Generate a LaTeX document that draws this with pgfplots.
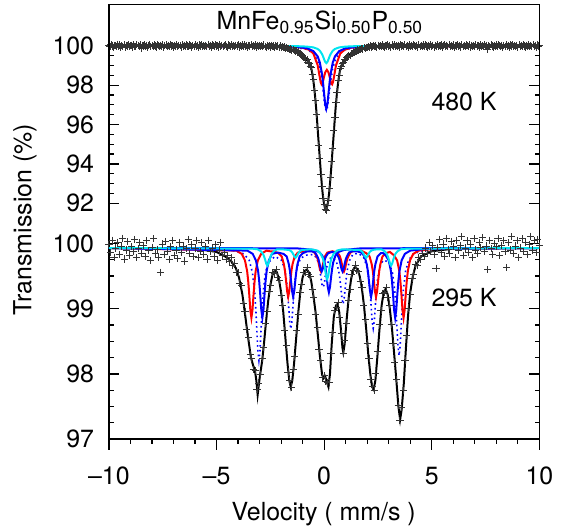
\documentclass[border=0pt]{standalone}
\usepackage{fontspec}
\setmainfont{TeX Gyre Heros}
\usepackage{pgfplots}
\pgfplotsset{compat=1.18}
\definecolor{cyn}{RGB}{0,228,240}

\begin{document}
\begin{tikzpicture}[font=\fontsize{12.5}{15}\selectfont]
\pgfplotsset{
  base/.style={width=216pt, height=218pt, scale only axis, at={(0,0)}, anchor=south west,
    xmin=-10, xmax=10, axis line style={line width=0.7pt},
    tick style={line width=0.6pt, black}, major tick length=5.3pt, minor tick length=2.4pt,
    tick label style={font=\fontsize{12.5}{15}\selectfont}},
  fit/.style={no marks, line width=1pt},
  pts/.style={only marks, mark=+, mark size=1.8pt, black!80, mark options={line width=0.42pt}},
}

% frame and velocity axis (ticks outside)
\begin{axis}[base, ymin=0, ymax=1, ytick=\empty,
  xtick={-10,-5,0,5,10}, xticklabels={--10,--5,0,5,10},
  minor xtick={-9,-8,-7,-6,-4,-3,-2,-1,1,2,3,4,6,7,8,9},
  tick align=outside, xtick pos=left, xticklabel style={yshift=-5.2pt}, clip=false]
\node[rotate=90] at (rel axis cs:-0.195,0.505) {Transmission (\%)};
\node[anchor=base] at (rel axis cs:0.499,-0.187) {Velocity ( mm/s )};
\end{axis}

% 480 K
\begin{axis}[base, ymin=80.02, ymax=102.09, xtick=\empty,
  ytick={92,94,96,98,100}, yticklabels={92,94,96,98,100},
  minor ytick={92,92.5,...,100}, tick align=inside, yticklabel style={xshift=-3.9pt}]
\addplot[pts] table[row sep=\\] {x y\\
-10 100.03\\ -9.95 99.96\\ -9.9 100.06\\ -9.85 99.99\\ -9.8 99.93\\ -9.75 100.02\\ -9.7 100.0\\ -9.65 99.95\\ -9.6 100.08\\ -9.55 99.98\\
-9.5 100.04\\ -9.45 99.94\\ -9.4 100.01\\ -9.35 99.97\\ -9.3 100.05\\ -9.25 99.92\\ -9.2 100.02\\ -9.15 99.99\\ -9.1 100.07\\ -9.05 99.96\\
-9.0 100.0\\ -8.95 100.03\\ -8.9 99.94\\ -8.85 100.05\\ -8.8 99.98\\ -8.75 99.95\\ -8.7 100.06\\ -8.65 100.01\\ -8.6 99.97\\ -8.55 100.04\\
-8.5 99.86\\ -8.45 100.02\\ -8.4 99.99\\ -8.35 100.05\\ -8.3 99.96\\ -8.25 100.03\\ -8.2 99.93\\ -8.15 100.0\\ -8.1 100.07\\ -8.05 99.97\\
-8.0 100.02\\ -7.95 99.95\\ -7.9 100.04\\ -7.85 99.99\\ -7.8 99.94\\ -7.75 100.06\\ -7.7 100.01\\ -7.65 99.96\\ -7.6 100.03\\ -7.55 99.98\\
-7.5 100.05\\ -7.45 99.93\\ -7.4 100.0\\ -7.35 100.04\\ -7.3 99.97\\ -7.25 100.02\\ -7.2 99.95\\ -7.15 100.08\\ -7.1 99.99\\ -7.05 100.01\\
-7.0 99.94\\ -6.95 100.03\\ -6.9 99.98\\ -6.85 100.06\\ -6.8 99.96\\ -6.75 100.02\\ -6.7 100.0\\ -6.65 99.93\\ -6.6 100.05\\ -6.55 99.98\\
-6.5 100.03\\ -6.45 99.96\\ -6.4 100.07\\ -6.35 99.99\\ -6.3 99.95\\ -6.25 100.04\\ -6.2 100.01\\ -6.15 99.94\\ -6.1 100.02\\ -6.05 99.97\\
-6.0 100.05\\ -5.95 99.98\\ -5.9 100.02\\ -5.85 99.93\\ -5.8 100.04\\ -5.75 99.99\\ -5.7 100.06\\ -5.65 99.96\\ -5.6 100.01\\ -5.55 99.95\\
-5.5 100.03\\ -5.45 99.97\\ -5.4 100.08\\ -5.35 99.98\\ -5.3 100.02\\ -5.25 99.94\\ -5.2 100.04\\ -5.15 100.0\\ -5.1 99.96\\ -5.05 100.05\\
-5.0 99.99\\ -4.95 100.02\\ -4.9 99.94\\ -4.85 100.06\\ -4.8 99.97\\ -4.75 100.03\\ -4.7 99.95\\ -4.65 100.01\\ -4.6 100.05\\ -4.55 99.98\\
-4.5 99.93\\ -4.45 100.04\\ -4.4 100.0\\ -4.35 99.96\\ -4.3 100.07\\ -4.25 99.98\\ -4.2 100.02\\ -4.15 99.95\\ -4.1 100.03\\ -4.05 99.99\\
-4.0 100.05\\ -3.95 99.94\\ -3.9 100.01\\ -3.85 99.97\\ -3.8 100.04\\ -3.75 99.96\\ -3.7 100.06\\ -3.65 99.98\\ -3.6 100.02\\ -3.55 99.93\\
-3.5 100.03\\ -3.45 99.99\\ -3.4 100.05\\ -3.35 99.95\\ -3.3 100.01\\ -3.25 99.97\\ -3.2 100.04\\ -3.15 99.94\\ -3.1 100.02\\ -3.05 99.98\\
-3.0 100.03\\ -2.95 99.95\\ -2.9 100.0\\ -2.85 99.96\\ -2.8 100.04\\ -2.75 99.97\\ -2.7 99.93\\ -2.65 100.02\\ -2.6 99.98\\ -2.55 100.01\\
-2.5 99.94\\ -2.45 100.03\\ -2.4 99.97\\ -2.35 99.99\\ -2.3 99.92\\ -2.25 100.02\\ -2.2 99.95\\ -2.15 99.99\\ -2.1 99.93\\ -2.05 100.0\\
-2.0 99.92\\ -1.95 99.96\\ -1.9 99.9\\ -1.85 99.94\\ -1.8 99.88\\ -1.75 99.91\\ -1.7 99.86\\ -1.65 99.87\\ -1.6 99.8\\ -1.55 99.84\\
-1.5 99.79\\ -1.45 99.83\\ -1.4 99.77\\ -1.35 99.74\\ -1.3 99.75\\ -1.25 99.68\\ -1.2 99.69\\ -1.15 99.61\\ -1.1 99.62\\ -1.05 99.53\\
-1.0 99.52\\ -0.95 99.43\\ -0.9 99.41\\ -0.85 99.31\\ -0.8 99.29\\ -0.75 99.18\\ -0.7 99.13\\ -0.65 98.97\\ -0.6 98.88\\ -0.55 98.57\\
-0.5 98.3\\ -0.45 97.72\\ -0.4 97.23\\ -0.35 96.5\\ -0.3 95.84\\ -0.25 94.95\\ -0.2 94.3\\ -0.15 93.45\\ -0.1 92.85\\ -0.05 92.25\\
0.0 91.96\\ 0.05 91.7\\ 0.1 91.62\\ 0.15 91.9\\ 0.2 92.15\\ 0.25 92.75\\ 0.3 93.3\\ 0.35 94.15\\ 0.4 94.8\\ 0.45 95.7\\
0.5 96.35\\ 0.55 97.15\\ 0.6 97.65\\ 0.65 98.25\\ 0.7 98.52\\ 0.75 98.86\\ 0.8 98.95\\ 0.85 99.12\\ 0.9 99.16\\ 0.95 99.29\\
1.0 99.3\\ 1.05 99.4\\ 1.1 99.42\\ 1.15 99.51\\ 1.2 99.52\\ 1.25 99.6\\ 1.3 99.6\\ 1.35 99.68\\ 1.4 99.67\\ 1.45 99.74\\
1.5 99.73\\ 1.55 99.79\\ 1.6 99.77\\ 1.65 99.83\\ 1.7 99.81\\ 1.75 99.87\\ 1.8 99.84\\ 1.85 99.9\\ 1.9 99.87\\ 1.95 99.93\\
2.0 99.9\\ 2.05 99.95\\ 2.1 99.92\\ 2.15 100.0\\ 2.2 99.94\\ 2.25 99.97\\ 2.3 100.02\\ 2.35 99.95\\ 2.4 99.99\\ 2.45 99.93\\
2.5 100.03\\ 2.55 99.97\\ 2.6 100.01\\ 2.65 99.95\\ 2.7 100.04\\ 2.75 99.98\\ 2.8 99.94\\ 2.85 100.02\\ 2.9 99.99\\ 2.95 100.05\\
3.0 99.96\\ 3.05 100.02\\ 3.1 99.93\\ 3.15 100.04\\ 3.2 99.98\\ 3.25 100.06\\ 3.3 99.95\\ 3.35 100.01\\ 3.4 99.97\\ 3.45 100.03\\
3.5 99.94\\ 3.55 100.05\\ 3.6 99.99\\ 3.65 100.02\\ 3.7 99.96\\ 3.75 100.07\\ 3.8 99.98\\ 3.85 100.0\\ 3.9 99.94\\ 3.95 100.04\\
4.0 99.97\\ 4.05 100.03\\ 4.1 99.95\\ 4.15 100.06\\ 4.2 100.0\\ 4.25 99.96\\ 4.3 100.02\\ 4.35 99.93\\ 4.4 100.05\\ 4.45 99.98\\
4.5 100.01\\ 4.55 99.95\\ 4.6 100.04\\ 4.65 99.97\\ 4.7 100.07\\ 4.75 99.99\\ 4.8 99.94\\ 4.85 100.02\\ 4.9 99.96\\ 4.95 100.05\\
5.0 99.98\\ 5.05 100.03\\ 5.1 99.93\\ 5.15 100.01\\ 5.2 99.97\\ 5.25 100.06\\ 5.3 99.95\\ 5.35 100.02\\ 5.4 99.99\\ 5.45 100.04\\
5.5 99.94\\ 5.55 100.0\\ 5.6 100.05\\ 5.65 99.96\\ 5.7 100.03\\ 5.75 99.98\\ 5.8 100.07\\ 5.85 99.95\\ 5.9 100.01\\ 5.95 99.97\\
6.0 100.04\\ 6.05 99.93\\ 6.1 100.02\\ 6.15 99.99\\ 6.2 100.06\\ 6.25 99.96\\ 6.3 100.0\\ 6.35 99.94\\ 6.4 100.05\\ 6.45 99.98\\
6.5 100.02\\ 6.55 99.95\\ 6.6 100.04\\ 6.65 100.0\\ 6.7 99.97\\ 6.75 100.06\\ 6.8 99.93\\ 6.85 100.03\\ 6.9 99.98\\ 6.95 100.01\\
7.0 99.96\\ 7.05 100.05\\ 7.1 99.99\\ 7.15 100.02\\ 7.2 99.94\\ 7.25 100.04\\ 7.3 99.97\\ 7.35 100.0\\ 7.4 99.95\\ 7.45 100.07\\
7.5 99.98\\ 7.55 100.03\\ 7.6 99.82\\ 7.65 100.01\\ 7.7 99.96\\ 7.75 100.05\\ 7.8 99.99\\ 7.85 99.94\\ 7.9 100.02\\ 7.95 99.97\\
8.0 100.04\\ 8.05 99.95\\ 8.1 100.06\\ 8.15 100.0\\ 8.2 99.96\\ 8.25 100.03\\ 8.3 99.93\\ 8.35 100.01\\ 8.4 99.98\\ 8.45 100.05\\
8.5 99.97\\ 8.55 100.02\\ 8.6 99.94\\ 8.65 100.04\\ 8.7 99.99\\ 8.75 100.06\\ 8.8 99.95\\ 8.85 100.01\\ 8.9 99.97\\ 8.95 100.03\\
9.0 99.93\\ 9.05 100.05\\ 9.1 99.98\\ 9.15 100.02\\ 9.2 99.96\\ 9.25 100.07\\ 9.3 99.99\\ 9.35 99.94\\ 9.4 100.03\\ 9.45 99.97\\
9.5 100.04\\ 9.55 99.95\\ 9.6 100.01\\ 9.65 99.98\\ 9.7 100.06\\ 9.75 99.96\\ 9.8 100.02\\ 9.85 99.93\\ 9.9 100.04\\ 9.95 99.99\\
10.0 100.03\\
};
% total fit
\addplot[fit, black] coordinates {(-10,100.0) (-2.92,99.97) (-1.92,99.92) (-1.42,99.8) (-1.12,99.62) (-0.92,99.42)
 (-0.82,99.3) (-0.72,99.16) (-0.67,99.06) (-0.62,98.93) (-0.57,98.72) (-0.52,98.38) (-0.47,97.95) (-0.42,97.42)
 (-0.37,96.8) (-0.32,96.07) (-0.27,95.3) (-0.22,94.55) (-0.17,93.8) (-0.12,93.11) (-0.07,92.5) (-0.02,92.08)
 (0.03,91.8) (0.08,91.7) (0.13,91.8) (0.18,92.08) (0.23,92.5) (0.28,93.11) (0.33,93.8) (0.38,94.55) (0.43,95.3)
 (0.48,96.07) (0.53,96.8) (0.58,97.42) (0.63,97.95) (0.68,98.38) (0.73,98.72) (0.78,98.93) (0.83,99.06)
 (0.88,99.16) (0.98,99.3) (1.08,99.42) (1.28,99.62) (1.58,99.8) (2.08,99.92) (3.08,99.97) (10,100.0)};
% subspectra
\addplot[no marks, blue, line width=0.8pt, dash pattern=on 0.8pt off 1.6pt] coordinates {(-10,100) (-1.4,99.93) (-0.8,99.82)
 (-0.5,99.61) (-0.3,99.23) (-0.2,98.85) (-0.1,98.19) (-0.05,97.75) (0,97.26) (0.05,96.86) (0.1,96.7) (0.15,96.86)
 (0.2,97.26) (0.25,97.75) (0.3,98.19) (0.4,98.85) (0.5,99.23) (0.7,99.61) (1.0,99.82) (1.6,99.93) (10,100)};
\addplot[fit, red] coordinates {(-10,100) (-1.5,99.955) (-1.0,99.9) (-0.7,99.8) (-0.5,99.61) (-0.3,99.01) (-0.2,98.38)
 (-0.16,98.15) (-0.12,98.04) (-0.08,98.09) (-0.05,98.21) (0.0,98.45) (0.05,98.65) (0.125,98.78) (0.2,98.65)
 (0.25,98.45) (0.3,98.21) (0.33,98.09) (0.37,98.04) (0.41,98.15) (0.45,98.38) (0.55,99.01) (0.75,99.61)
 (0.95,99.8) (1.25,99.9) (1.75,99.955) (10,100)};
\addplot[fit, blue] coordinates {(-10,100) (-1.4,99.96) (-0.8,99.88) (-0.5,99.73) (-0.3,99.46) (-0.2,99.15) (-0.1,98.57)
 (-0.05,98.11) (0,97.56) (0.05,97.03) (0.1,96.8) (0.15,97.03) (0.2,97.56) (0.25,98.11) (0.3,98.57) (0.4,99.15)
 (0.5,99.46) (0.7,99.73) (1.0,99.88) (1.6,99.96) (10,100)};
\addplot[fit, cyn] coordinates {(-10,100) (-1.4,99.99) (-0.8,99.96) (-0.5,99.92) (-0.3,99.84) (-0.2,99.75) (-0.1,99.58)
 (-0.05,99.46) (0,99.31) (0.05,99.18) (0.1,99.12) (0.15,99.18) (0.2,99.31) (0.25,99.46) (0.3,99.58) (0.4,99.75)
 (0.5,99.84) (0.7,99.92) (1.0,99.96) (1.6,99.99) (10,100)};
\node[anchor=base] at (axis cs:-0.2,100.81) {MnFe\textsubscript{0.95}Si\textsubscript{0.50}P\textsubscript{0.50}};
\node[anchor=base] at (axis cs:6.5,96.71) {480 K};
\end{axis}

% 295 K
\begin{axis}[base, ymin=97, ymax=103.66, xtick=\empty,
  ytick={97,98,99,100}, yticklabels={97,98,99,100},
  minor ytick={97,97.25,...,100}, tick align=inside, yticklabel style={xshift=-3.9pt}]
\addplot[pts] table[row sep=\\] {x y\\
-10 99.98\\ -9.92 99.86\\ -9.84 100.05\\ -9.76 99.79\\ -9.68 99.93\\ -9.60 100.02\\ -9.52 99.83\\ -9.44 99.96\\ -9.36 100.08\\ -9.28 99.76\\
-9.20 99.9\\ -9.12 100.03\\ -9.04 99.81\\ -8.96 99.95\\ -8.88 99.87\\ -8.80 100.06\\ -8.72 99.78\\ -8.64 99.92\\ -8.56 100.01\\ -8.48 99.84\\
-8.40 99.97\\ -8.32 99.8\\ -8.24 100.04\\ -8.16 99.89\\ -8.08 99.74\\ -8.00 99.94\\ -7.92 100.07\\ -7.84 99.85\\ -7.76 99.91\\ -7.68 99.78\\
-7.60 99.56\\ -7.52 99.99\\ -7.44 99.83\\ -7.36 100.03\\ -7.28 99.88\\ -7.20 99.75\\ -7.12 99.95\\ -7.04 100.05\\ -6.96 99.82\\ -6.88 99.9\\
-6.80 99.77\\ -6.72 100.02\\ -6.64 99.86\\ -6.56 99.96\\ -6.48 99.73\\ -6.40 99.92\\ -6.32 100.06\\ -6.24 99.84\\ -6.16 99.98\\ -6.08 99.8\\
-6.00 99.93\\ -5.92 100.04\\ -5.84 99.79\\ -5.76 99.88\\ -5.68 100.01\\ -5.60 99.83\\ -5.52 99.95\\ -5.44 99.76\\ -5.36 100.05\\ -5.28 99.87\\
-5.20 99.92\\ -5.12 99.8\\ -5.04 99.98\\ -4.96 99.74\\ -4.88 99.9\\ -4.80 100.02\\ -4.72 99.82\\ -4.64 99.86\\ -4.56 99.76\\ -4.48 99.82\\
-4.40 99.72\\ -4.32 99.78\\ -4.24 99.66\\ -4.16 99.7\\ -4.08 99.56\\ -4.00 99.55\\ -3.92 99.38\\ -3.84 99.35\\ -3.76 99.08\\ -3.68 98.96\\
-3.60 98.68\\ -3.52 98.56\\ -3.44 98.3\\ -3.36 98.23\\ -3.28 98.07\\ -3.20 98.05\\ -3.12 97.76\\ -3.04 97.86\\ -2.96 97.99\\ -2.88 98.24\\
-2.80 98.41\\ -2.72 98.77\\ -2.64 98.96\\ -2.56 99.26\\ -2.48 99.36\\ -2.40 99.55\\ -2.32 99.54\\ -2.24 99.6\\ -2.16 99.48\\ -2.08 99.44\\
-2.00 99.21\\ -1.92 99.05\\ -1.84 98.67\\ -1.76 98.43\\ -1.68 98.03\\ -1.60 97.9\\ -1.52 97.8\\ -1.44 98.07\\ -1.36 98.27\\ -1.28 98.67\\
-1.20 98.91\\ -1.12 99.25\\ -1.04 99.37\\ -0.96 99.55\\ -0.88 99.56\\ -0.80 99.63\\ -0.72 99.53\\ -0.64 99.5\\ -0.56 99.3\\ -0.48 99.18\\
-0.40 98.91\\ -0.32 98.72\\ -0.24 98.38\\ -0.16 98.2\\ -0.08 97.95\\ 0.00 97.97\\ 0.08 97.89\\ 0.16 97.87\\ 0.24 97.87\\ 0.32 98.31\\
0.40 98.63\\ 0.48 98.97\\ 0.56 99.02\\ 0.64 99.09\\ 0.72 98.86\\ 0.80 98.62\\ 0.88 98.32\\ 0.96 98.52\\ 1.04 98.78\\ 1.12 99.13\\
1.20 99.3\\ 1.28 99.53\\ 1.36 99.58\\ 1.44 99.67\\ 1.52 99.58\\ 1.60 99.57\\ 1.68 99.42\\ 1.76 99.33\\ 1.84 99.05\\ 1.92 98.83\\
2.00 98.46\\ 2.08 98.23\\ 2.16 97.92\\ 2.24 97.81\\ 2.32 97.74\\ 2.40 98.0\\ 2.48 98.35\\ 2.56 98.76\\ 2.64 98.97\\ 2.72 99.23\\
2.80 99.25\\ 2.88 99.32\\ 2.96 99.17\\ 3.04 99.05\\ 3.12 98.76\\ 3.20 98.47\\ 3.28 98.17\\ 3.36 97.91\\ 3.44 97.51\\ 3.52 97.28\\
3.60 97.48\\ 3.68 97.74\\ 3.76 98.21\\ 3.84 98.59\\ 3.92 99.01\\ 4.00 99.22\\ 4.08 99.46\\ 4.16 99.52\\ 4.24 99.68\\ 4.32 99.67\\
4.40 99.78\\ 4.48 99.76\\ 4.56 99.84\\ 4.64 99.8\\ 4.72 99.93\\ 4.80 99.85\\ 4.88 100.02\\ 4.96 99.88\\ 5.04 99.97\\ 5.12 99.83\\
5.20 99.62\\ 5.28 99.94\\ 5.36 100.06\\ 5.44 99.86\\ 5.52 99.99\\ 5.60 99.8\\ 5.68 100.08\\ 5.76 99.91\\ 5.84 99.84\\ 5.92 100.03\\
6.00 99.95\\ 6.08 99.78\\ 6.16 100.05\\ 6.24 99.89\\ 6.32 99.97\\ 6.40 100.1\\ 6.48 99.82\\ 6.56 99.93\\ 6.64 100.04\\ 6.72 99.86\\
6.80 99.98\\ 6.88 99.79\\ 6.96 100.07\\ 7.04 99.9\\ 7.12 99.84\\ 7.20 100.02\\ 7.28 99.94\\ 7.36 100.09\\ 7.44 99.87\\ 7.52 99.96\\
7.60 99.6\\ 7.68 100.05\\ 7.76 99.92\\ 7.84 99.83\\ 7.92 100.0\\ 8.00 99.95\\ 8.08 100.08\\ 8.16 99.81\\ 8.24 99.97\\ 8.32 100.04\\
8.40 99.88\\ 8.48 99.63\\ 8.56 100.02\\ 8.64 99.9\\ 8.72 100.1\\ 8.80 99.85\\ 8.88 99.96\\ 8.96 100.05\\ 9.04 99.79\\ 9.12 99.93\\
9.20 100.07\\ 9.28 99.88\\ 9.36 100.02\\ 9.44 99.83\\ 9.52 99.98\\ 9.60 100.11\\ 9.68 99.9\\ 9.76 100.04\\ 9.84 99.86\\ 9.92 100.06\\
10.00 99.97\\
};
% total fit
\addplot[fit, black] coordinates {(-10,99.93) (-6.0,99.92) (-5.0,99.87) (-4.6,99.8) (-4.3,99.72) (-4.1,99.62)
 (-3.95,99.47) (-3.8,99.22) (-3.7,98.98) (-3.6,98.72) (-3.5,98.48) (-3.4,98.25) (-3.3,98.13) (-3.22,98.06)
 (-3.15,97.9) (-3.09,97.68) (-3.03,97.85) (-2.97,98.0) (-2.88,98.2) (-2.8,98.45) (-2.7,98.8) (-2.6,99.12)
 (-2.5,99.36) (-2.4,99.52) (-2.3,99.58) (-2.2,99.56) (-2.1,99.45) (-2.0,99.25) (-1.9,98.95) (-1.8,98.55)
 (-1.7,98.15) (-1.62,97.9) (-1.55,97.8) (-1.48,97.9) (-1.4,98.15) (-1.3,98.55) (-1.2,98.95) (-1.1,99.28)
 (-1.0,99.48) (-0.9,99.58) (-0.8,99.6) (-0.7,99.55) (-0.6,99.42) (-0.5,99.2) (-0.4,98.95) (-0.3,98.62)
 (-0.2,98.28) (-0.1,98.0) (-0.03,97.93) (0.05,97.96) (0.12,97.88) (0.2,97.8) (0.27,98.0) (0.35,98.45)
 (0.45,98.88) (0.55,99.05) (0.62,99.07) (0.7,98.95) (0.78,98.68) (0.85,98.4) (0.89,98.33) (0.95,98.45)
 (1.05,98.85) (1.15,99.2) (1.25,99.45) (1.35,99.6) (1.45,99.64) (1.55,99.6) (1.65,99.5) (1.75,99.32)
 (1.85,99.05) (1.95,98.7) (2.05,98.3) (2.15,97.98) (2.23,97.8) (2.3,97.76) (2.38,97.9) (2.47,98.25)
 (2.57,98.68) (2.67,99.05) (2.77,99.26) (2.85,99.3) (2.95,99.22) (3.05,99.0) (3.15,98.7) (3.25,98.32)
 (3.35,97.92) (3.45,97.5) (3.53,97.3) (3.6,97.45) (3.7,97.85) (3.8,98.4) (3.9,98.9) (4.0,99.25) (4.12,99.5)
 (4.25,99.66) (4.5,99.8) (5.0,99.88) (6.0,99.92) (10,99.93)};
% subspectra
\addplot[no marks, blue, line width=0.8pt, dash pattern=on 0.8pt off 1.6pt] coordinates {(-10,99.93) (-4.5,99.92)
 (-3.73,99.84) (-3.48,99.74) (-3.33,99.55) (-3.23,99.26) (-3.18,99.02) (-3.13,98.69) (-3.08,98.36) (-3.03,98.21)
 (-2.98,98.36) (-2.93,98.69) (-2.88,99.02) (-2.83,99.26) (-2.73,99.55) (-2.58,99.71) (-2.29,99.8) (-2.0,99.75)
 (-1.85,99.63) (-1.75,99.44) (-1.7,99.26) (-1.65,99.04) (-1.6,98.8) (-1.55,98.69) (-1.5,98.8) (-1.45,99.04)
 (-1.4,99.26) (-1.35,99.44) (-1.25,99.64) (-1.1,99.77) (-0.85,99.82) (-0.5,99.83) (-0.35,99.78) (-0.25,99.68)
 (-0.2,99.59) (-0.15,99.48) (-0.1,99.37) (-0.05,99.33) (0.0,99.37) (0.05,99.49) (0.1,99.6) (0.15,99.68)
 (0.25,99.77) (0.42,99.78) (0.58,99.71) (0.68,99.57) (0.73,99.46) (0.78,99.31) (0.83,99.15) (0.88,99.07)
 (0.93,99.16) (0.98,99.32) (1.03,99.48) (1.08,99.6) (1.18,99.74) (1.33,99.83) (1.58,99.85) (1.83,99.79)
 (1.98,99.65) (2.08,99.45) (2.13,99.28) (2.18,99.05) (2.23,98.81) (2.28,98.7) (2.33,98.81) (2.38,99.05)
 (2.43,99.28) (2.48,99.45) (2.58,99.63) (2.73,99.74) (2.88,99.73) (3.03,99.7) (3.18,99.54) (3.28,99.27)
 (3.33,99.05) (3.38,98.74) (3.43,98.43) (3.48,98.28) (3.53,98.43) (3.58,98.74) (3.63,99.05) (3.68,99.29)
 (3.78,99.57) (3.93,99.75) (4.18,99.85) (5.0,99.91) (10,99.93)};
\addplot[fit, red] coordinates {(-10,99.93) (-4.08,99.89) (-3.83,99.84) (-3.68,99.74) (-3.58,99.58) (-3.53,99.43)
 (-3.48,99.22) (-3.43,98.98) (-3.38,98.86) (-3.33,98.98) (-3.28,99.22) (-3.23,99.43) (-3.18,99.58) (-3.08,99.74)
 (-2.93,99.84) (-2.68,99.89) (-2.52,99.88) (-2.37,99.88) (-2.12,99.85) (-1.97,99.8) (-1.87,99.68) (-1.82,99.58)
 (-1.77,99.43) (-1.72,99.27) (-1.67,99.18) (-1.62,99.27) (-1.57,99.43) (-1.52,99.58) (-1.47,99.68) (-1.37,99.8)
 (-1.22,99.86) (-0.97,99.88) (-0.91,99.89) (-0.6,99.89) (-0.45,99.86) (-0.35,99.8) (-0.3,99.76) (-0.25,99.69)
 (-0.2,99.61) (-0.15,99.57) (-0.1,99.61) (-0.05,99.69) (0.0,99.76) (0.05,99.81) (0.15,99.86) (0.385,99.88)
 (0.62,99.86) (0.72,99.81) (0.77,99.76) (0.82,99.69) (0.87,99.61) (0.92,99.57) (0.97,99.61) (1.02,99.69)
 (1.07,99.76) (1.12,99.8) (1.22,99.86) (1.37,99.89) (1.665,99.89) (1.71,99.89) (1.96,99.85) (2.11,99.8)
 (2.21,99.68) (2.26,99.58) (2.31,99.43) (2.36,99.27) (2.41,99.18) (2.46,99.27) (2.51,99.43) (2.56,99.58)
 (2.61,99.68) (2.71,99.8) (2.86,99.85) (3.05,99.87) (3.24,99.82) (3.39,99.74) (3.49,99.58) (3.54,99.43)
 (3.59,99.22) (3.64,98.98) (3.69,98.86) (3.74,98.98) (3.79,99.22) (3.84,99.43) (3.89,99.58) (3.99,99.74)
 (4.14,99.84) (4.39,99.89) (5.2,99.92) (10,99.93)};
\addplot[fit, blue] coordinates {(-10,99.93) (-3.57,99.89) (-3.32,99.84) (-3.17,99.74) (-3.07,99.58) (-3.02,99.43)
 (-2.97,99.22) (-2.92,98.98) (-2.87,98.86) (-2.82,98.98) (-2.77,99.22) (-2.72,99.43) (-2.67,99.58) (-2.57,99.74)
 (-2.42,99.84) (-2.155,99.86) (-1.89,99.84) (-1.74,99.8) (-1.64,99.68) (-1.59,99.58) (-1.54,99.43) (-1.49,99.27)
 (-1.44,99.18) (-1.39,99.27) (-1.34,99.43) (-1.29,99.58) (-1.24,99.68) (-1.14,99.8) (-0.99,99.85) (-0.78,99.88)
 (-0.565,99.88) (-0.415,99.86) (-0.315,99.8) (-0.265,99.76) (-0.215,99.69) (-0.165,99.61) (-0.115,99.57)
 (-0.065,99.61) (-0.015,99.69) (0.035,99.76) (0.085,99.8) (0.185,99.85) (0.37,99.87) (0.555,99.85) (0.655,99.8)
 (0.705,99.76) (0.755,99.69) (0.805,99.61) (0.855,99.57) (0.905,99.61) (0.955,99.69) (1.005,99.76) (1.055,99.8)
 (1.155,99.86) (1.305,99.88) (1.5175,99.88) (1.73,99.86) (1.88,99.8) (1.98,99.68) (2.03,99.58) (2.08,99.43)
 (2.13,99.27) (2.18,99.18) (2.23,99.27) (2.28,99.43) (2.33,99.58) (2.38,99.68) (2.48,99.8) (2.63,99.85)
 (2.74,99.85) (2.85,99.82) (3.0,99.74) (3.1,99.58) (3.15,99.43) (3.2,99.22) (3.25,98.98) (3.3,98.86) (3.35,98.98)
 (3.4,99.22) (3.45,99.43) (3.5,99.58) (3.6,99.74) (3.75,99.84) (4.0,99.89) (4.8,99.92) (10,99.93)};
\addplot[fit, blue] coordinates {(-10,99.93) (-1.28,99.925) (-0.48,99.9) (-0.23,99.87) (-0.08,99.81) (0.02,99.71)
 (0.07,99.61) (0.12,99.48) (0.17,99.33) (0.22,99.25) (0.27,99.33) (0.32,99.48) (0.37,99.61) (0.42,99.71)
 (0.52,99.81) (0.67,99.87) (0.92,99.9) (1.72,99.925) (10,99.93)};
\addplot[fit, cyn] coordinates {(-10,99.93) (-3.34,99.92) (-3.09,99.91) (-2.94,99.88) (-2.84,99.84) (-2.79,99.8)
 (-2.74,99.75) (-2.69,99.69) (-2.64,99.66) (-2.59,99.69) (-2.54,99.75) (-2.49,99.8) (-2.44,99.84) (-2.34,99.88)
 (-2.19,99.91) (-1.98,99.91) (-1.63,99.9) (-1.53,99.88) (-1.48,99.86) (-1.43,99.83) (-1.38,99.8) (-1.33,99.78)
 (-1.28,99.8) (-1.23,99.83) (-1.18,99.86) (-1.13,99.88) (-1.03,99.9) (-0.6,99.91) (-0.31,99.89) (-0.16,99.84)
 (-0.06,99.77) (-0.01,99.71) (0.04,99.61) (0.09,99.5) (0.14,99.45) (0.19,99.5) (0.24,99.61) (0.29,99.71)
 (0.34,99.77) (0.44,99.84) (0.59,99.89) (0.84,99.91) (1.55,99.9) (1.65,99.9) (1.75,99.88) (1.8,99.86)
 (1.85,99.83) (1.9,99.8) (1.95,99.78) (2.0,99.8) (2.05,99.83) (2.1,99.86) (2.15,99.88) (2.25,99.9) (2.45,99.91)
 (2.66,99.91) (2.81,99.88) (2.91,99.84) (2.96,99.8) (3.01,99.75) (3.06,99.69) (3.11,99.66) (3.16,99.69)
 (3.21,99.75) (3.26,99.8) (3.31,99.84) (3.41,99.88) (3.56,99.91) (3.81,99.92) (10,99.93)};
\node[anchor=base] at (axis cs:6.5,99.04) {295 K};
\end{axis}

\pgfresetboundingbox
\path[use as bounding box] (-54.65pt,-43.65pt) rectangle (229.85pt,220.35pt);
\end{tikzpicture}
\end{document}
